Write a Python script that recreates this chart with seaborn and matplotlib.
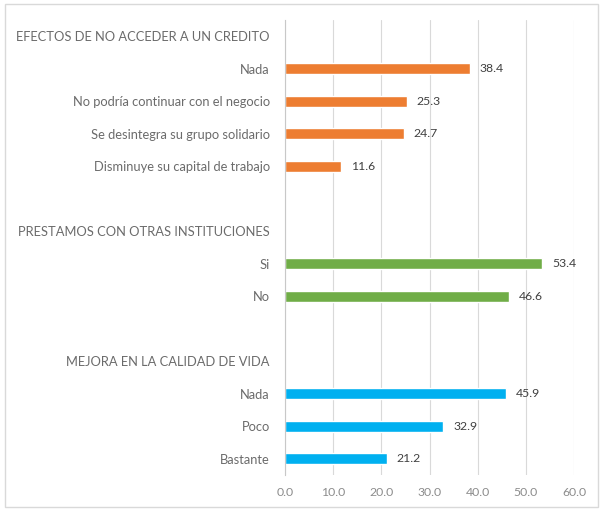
import matplotlib.pyplot as plt
import numpy as np
import pandas as pd
import seaborn as sns
from matplotlib.patches import Rectangle

# rows top to bottom; headers and spacer rows carry no value
labels = ["EFECTOS DE NO ACCEDER A UN CREDITO", "Nada", "No podría continuar con el negocio",
          "Se desintegra su grupo solidario", "Disminuye su capital de trabajo", "",
          "PRESTAMOS CON OTRAS INSTITUCIONES", "Si", "No", "",
          "MEJORA EN LA CALIDAD DE VIDA", "Nada", "Poco", "Bastante"]
values = [np.nan, 38.4, 25.3, 24.7, 11.6, np.nan,
          np.nan, 53.4, 46.6, np.nan,
          np.nan, 45.9, 32.9, 21.2]
groups = ["efectos"] * 6 + ["prestamos"] * 4 + ["mejora"] * 4
palette = {"efectos": "#ED7D31", "prestamos": "#70AD47", "mejora": "#00B0F0"}
xticks = [0, 10, 20, 30, 40, 50, 60]

keys = [f"r{i}" for i in range(len(labels))]
df = pd.DataFrame({"key": keys, "label": labels, "value": values, "group": groups})

sns.set_style("white")
plt.rcParams["font.family"] = ["Lato", "DejaVu Sans"]

fig = plt.figure(figsize=(6.03, 5.11), dpi=100)
ax = fig.add_axes([0.4726, 0.0705, 0.4794, 0.8904])

plot_df = df.dropna(subset=["value"])
sns.barplot(data=plot_df, x="value", y="key", hue="group", order=keys,
            palette=palette, dodge=False, width=0.34, legend=False, ax=ax,
            saturation=1)

ax.set_ylim(len(keys) - 0.5, -0.5)
ax.set_xlim(0, 60)
ax.set_xticks(xticks)
ax.set_xticklabels([f"{t:.1f}" for t in xticks], color="#8c8c8c", fontsize=8.8)
ax.set_yticks(range(len(keys)))
ax.set_yticklabels(labels, color="#6b6b6b", fontsize=9.3)
ax.tick_params(axis="y", length=0, pad=11)
ax.tick_params(axis="x", length=0, pad=9)
ax.set_xlabel("")
ax.set_ylabel("")

ax.grid(axis="x", color="#d9d9d9", linewidth=0.8)
ax.set_axisbelow(True)
for s in ["top", "right", "bottom"]:
    ax.spines[s].set_visible(False)
ax.spines["left"].set_color("#c8c8c8")
ax.spines["left"].set_linewidth(0.8)

for i, v in enumerate(values):
    if not np.isnan(v):
        ax.annotate(f"{v:.1f}", (v, i), xytext=(7, 0), textcoords="offset points",
                    va="center", ha="left", fontsize=8.8, color="#404040")

fig.patches.append(Rectangle((5 / 603, 4 / 511), 593 / 603, 503 / 511,
                             transform=fig.transFigure, fill=False,
                             edgecolor="#d9d9d9", linewidth=1))

fig.savefig("out.png", dpi=100)
